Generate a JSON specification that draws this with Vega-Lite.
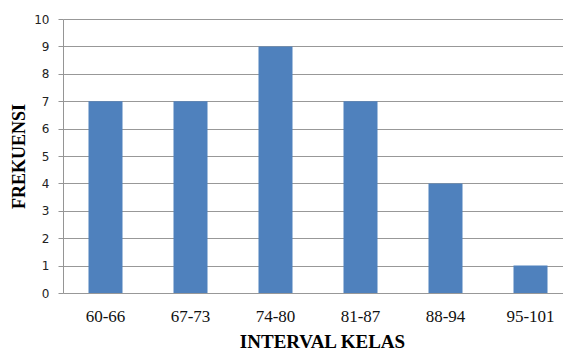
{
  "$schema": "https://vega.github.io/schema/vega-lite/v6.json",
  "autosize": {"type": "none"},
  "padding": {"left": 63, "top": 19, "right": 10, "bottom": 58},
  "width": 490,
  "height": 274,
  "background": "white",
  "config": {"view": {"stroke": null}},
  "data": {
    "values": [
      {"interval": "60-66", "frekuensi": 7},
      {"interval": "67-73", "frekuensi": 7},
      {"interval": "74-80", "frekuensi": 9},
      {"interval": "81-87", "frekuensi": 7},
      {"interval": "88-94", "frekuensi": 4},
      {"interval": "95-101", "frekuensi": 1}
    ]
  },
  "mark": {"type": "bar", "color": "#4F81BD"},
  "encoding": {
    "x": {
      "field": "interval",
      "type": "nominal",
      "sort": null,
      "scale": {"range": [0, 510], "paddingInner": 0.6, "paddingOuter": 0.3},
      "axis": {
        "title": "INTERVAL KELAS",
        "titleFont": "Liberation Serif",
        "titleFontSize": 19,
        "titleFontWeight": "bold",
        "titleColor": "#000000",
        "titleX": 259,
        "titleY": 54,
        "titleBaseline": "alphabetic",
        "labelAngle": 0,
        "labelFont": "Liberation Serif",
        "labelFontSize": 17,
        "labelColor": "#111111",
        "labelBaseline": "alphabetic",
        "ticks": false,
        "tickSize": 0,
        "labelPadding": 28,
        "domain": false,
        "grid": false
      }
    },
    "y": {
      "field": "frekuensi",
      "type": "quantitative",
      "scale": {"domain": [0, 10], "nice": false},
      "axis": {
        "title": "FREKUENSI",
        "titleFont": "Liberation Serif",
        "titleFontSize": 18,
        "titleFontWeight": "bold",
        "titleColor": "#000000",
        "titleAngle": -90,
        "titleX": -44,
        "titleY": 137,
        "titleAlign": "center",
        "titleBaseline": "middle",
        "values": [0, 1, 2, 3, 4, 5, 6, 7, 8, 9, 10],
        "labelFont": "DejaVu Sans",
        "labelFontSize": 12,
        "labelColor": "#222222",
        "labelPadding": 9,
        "tickSize": 5,
        "tickColor": "#959595",
        "domainColor": "#959595",
        "grid": true,
        "gridColor": "#989898",
        "gridWidth": 1
      }
    }
  }
}
